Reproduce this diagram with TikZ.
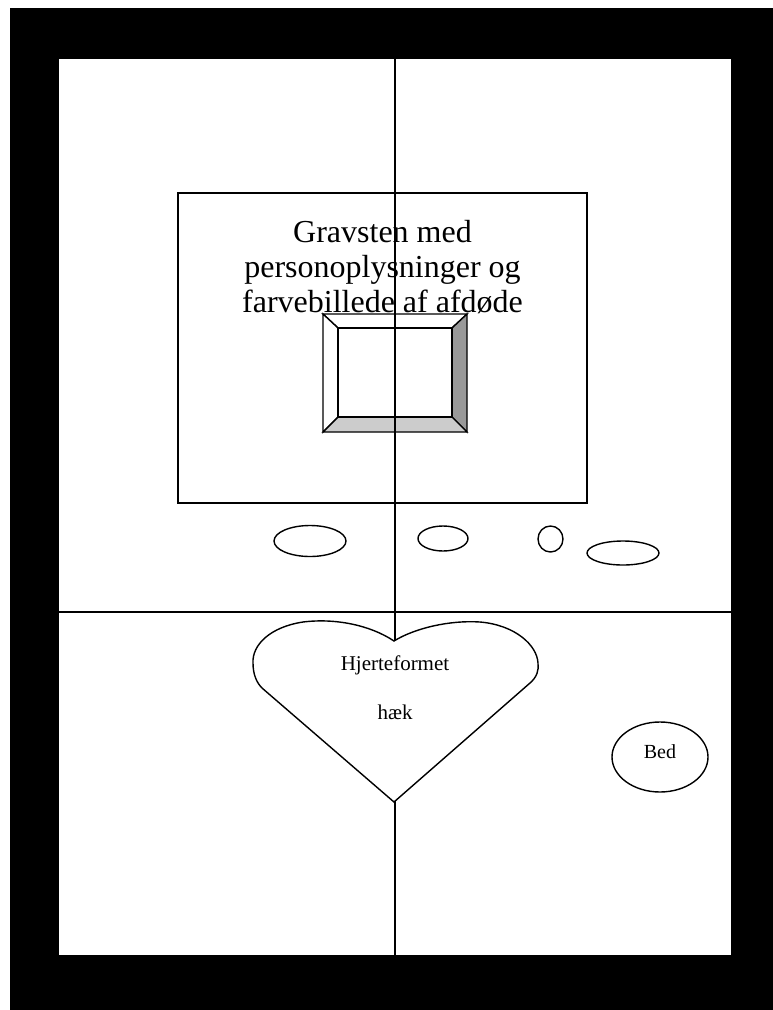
\documentclass[tikz,border=0pt]{standalone}
\usepackage{fontspec}
\setmainfont{Liberation Serif}
\usetikzlibrary{shapes.geometric}
\begin{document}
\begin{tikzpicture}[x=1pt,y=-1pt,
  thinline/.style={draw=black,line width=1.3pt},
  blob/.style={draw=black,line width=1.4pt,ellipse,inner sep=0pt,fill=white},
  lbl/.style={font=\fontsize{21}{25}\selectfont,inner sep=0pt}]
\useasboundingbox (0,0) rectangle (773,1010);
% black frame
\fill[black] (10,8) rectangle (773,1010);
\fill[white] (59,59) rectangle (731,955);
% gravestone
\node[draw=black,line width=1.3pt,minimum width=409pt,minimum height=310pt,inner sep=0pt] (stone) at (382.5,348) {};
\node[font=\fontsize{32}{35}\selectfont,align=center,inner sep=0pt,anchor=base] (stonetext) at (382.5,312) {Gravsten med\\personoplysninger og\\farvebillede af afdøde};
% picture frame
\coordinate (fo1) at (323,314); \coordinate (fo2) at (467,314);
\coordinate (fo3) at (467,432); \coordinate (fo4) at (323,432);
\coordinate (fi1) at (338,328); \coordinate (fi2) at (452,328);
\coordinate (fi3) at (452,417); \coordinate (fi4) at (338,417);
\filldraw[fill=white,line width=1.4pt] (fo1) -- (fo2) -- (fi2) -- (fi1) -- cycle;
\filldraw[fill=white,line width=1.4pt] (fo1) -- (fi1) -- (fi4) -- (fo4) -- cycle;
\filldraw[fill=black!40,line width=1.4pt] (fo2) -- (fo3) -- (fi3) -- (fi2) -- cycle;
\filldraw[fill=black!20,line width=1.4pt] (fo4) -- (fi4) -- (fi3) -- (fo3) -- cycle;
\filldraw[fill=white,line width=1.4pt] (fi1) rectangle (fi3);
% dividing lines
\coordinate (vtop) at (395,59); \coordinate (vbot) at (395,955);
\coordinate (hl) at (59,612); \coordinate (hr) at (731,612);
\draw[thinline] (vtop) -- (vbot);
\draw[thinline] (hl) -- (hr);
% stones / ellipses
\node[blob,minimum width=72pt,minimum height=31pt] (e1) at (310,541) {};
\node[blob,minimum width=50pt,minimum height=25pt] (e2) at (443,538.5) {};
\node[blob,minimum width=25pt,minimum height=26pt] (e3) at (550.5,539) {};
\node[blob,minimum width=72pt,minimum height=24pt] (e4) at (623,553) {};
% heart
\filldraw[fill=white,line width=1.4pt] (394,641) .. controls (370,625) and (335,618) .. (303,622)
  .. controls (270,627) and (252,645) .. (253,663)
  .. controls (253,675) and (257,683) .. (262,688)
  -- (394,802) -- (530,683)
  .. controls (537,677) and (539,670) .. (538,663)
  .. controls (537,645) and (515,625) .. (480,622)
  .. controls (450,620) and (415,628) .. (394,641) -- cycle;
\node[lbl,anchor=base] (h1) at (395,670) {Hjerteformet};
\node[lbl,anchor=base] (h2) at (395,719) {hæk};
% bed
\node[blob,minimum width=96pt,minimum height=70pt] (bed) at (660,757) {};
\node[lbl,font=\fontsize{20}{24}\selectfont] (bedtext) at (660,752) {Bed};
\end{tikzpicture}
\end{document}
